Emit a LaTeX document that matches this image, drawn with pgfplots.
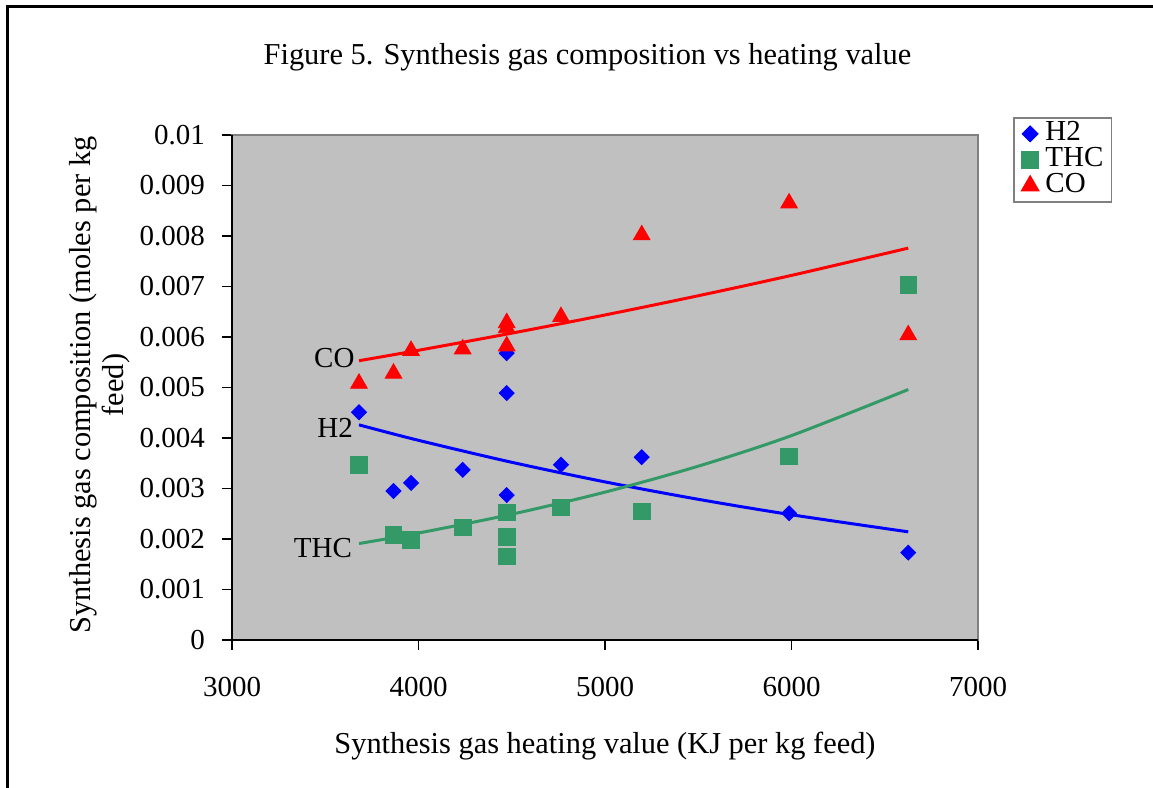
\documentclass[border=0pt]{standalone}
\usepackage{fontspec}
\setmainfont{Liberation Serif}
\usepackage{pgfplots}
\pgfplotsset{compat=1.18}
\definecolor{exblue}{RGB}{0,0,255}
\definecolor{exgreen}{RGB}{51,153,102}
\definecolor{exred}{RGB}{255,0,0}
\definecolor{plotgray}{RGB}{192,192,192}
\definecolor{bordergray}{RGB}{128,128,128}
\begin{document}
\fontsize{14.5}{17}\selectfont
\begin{tikzpicture}
\useasboundingbox (0,0) rectangle (576.5pt,394pt);
\draw[line width=1.25pt] (3.75pt,-5pt) -- (3.75pt,390.75pt) -- (590pt,390.75pt);
\node[font=\fontsize{15.2}{18}\selectfont] at (293.75pt,365.5pt) {Figure 5. Synthesis gas composition vs heating value};
\node[rotate=90,align=center,font=\fontsize{15.2}{16.5}\selectfont] at (50pt,201.5pt) {Synthesis gas composition (moles per kg\\feed)};
\node[font=\fontsize{15.2}{18}\selectfont] at (302.5pt,21pt) {Synthesis gas heating value (KJ per kg feed)};
\begin{axis}[
  at={(116pt,74pt)}, anchor=south west,
  scale only axis, width=373pt, height=252.5pt,
  xmin=3000, xmax=7000, ymin=0, ymax=0.01,
  scaled y ticks=false, scaled x ticks=false,
  xtick={3000,4000,5000,6000,7000},
  xticklabels={3000,4000,5000,6000,7000},
  ytick={0,0.001,0.002,0.003,0.004,0.005,0.006,0.007,0.008,0.009,0.01},
  yticklabels={0,0.001,0.002,0.003,0.004,0.005,0.006,0.007,0.008,0.009,0.01},
  xtick pos=bottom, ytick pos=left, tick align=outside,
  major tick length=5pt,
  tick style={black, line width=0.6pt},
  axis line style={draw=bordergray, line width=0.8pt},
  axis background/.style={fill=plotgray},
  yticklabel style={xshift=-3.5pt},
  xticklabel style={yshift=-8.5pt},
  clip=false,
  legend style={at={(1.047,1.0356)}, anchor=north west, draw=bordergray, line width=0.8pt, fill=white,
    inner xsep=4pt, inner ysep=1.5pt, row sep=0pt, column sep=3.5pt,
    nodes={text height=10pt, text depth=3pt, inner sep=0pt, anchor=west}},
  legend cell align=left,
]
% H2 data
\addplot[only marks, mark=square*, mark size=2.65pt, mark options={rotate=45, fill=exblue, draw=exblue}] coordinates {
(3681,0.00451) (3866,0.00295) (3960,0.00311) (4237,0.00337)
(4473,0.00568) (4473,0.00489) (4473,0.00287) (4764,0.00347)
(5197,0.00362) (5987,0.00251) (6626,0.00173)};
\addlegendentry{H2}
% THC data
\addplot[only marks, mark=square*, mark size=4.1pt, mark options={fill=exgreen, draw=exgreen}] coordinates {
(3681,0.00347) (3866,0.00208) (3960,0.00198) (4237,0.00223)
(4473,0.00253) (4473,0.00204) (4473,0.00165) (4764,0.00263)
(5197,0.00255) (5987,0.00364) (6626,0.00703)};
\addlegendentry{THC}
% CO data
\addplot[only marks, mark=triangle*, mark size=4.8pt, mark options={fill=exred, draw=exred}] coordinates {
(3681,0.00508) (3866,0.00528) (3960,0.00573) (4237,0.00576)
(4473,0.00582) (4473,0.00628) (4473,0.00618) (4764,0.00640)
(5197,0.00802) (5987,0.00865) (6626,0.00604)};
\addlegendentry{CO}
% trendlines
\addplot[forget plot, exred, line width=1.5pt, smooth] coordinates {
(3681,0.00553) (4000,0.005737) (4500,0.006076) (5000,0.006436) (5500,0.006817) (6000,0.007220) (6626,0.00776)};
\addplot[forget plot, exblue, line width=1.5pt, smooth] coordinates {
(3681,0.00426) (4000,0.003954) (4500,0.003519) (5000,0.003131) (5500,0.002786) (6000,0.002480) (6626,0.002142)};
\addplot[forget plot, exgreen, line width=1.5pt, smooth] coordinates {
(3681,0.00191) (4000,0.002118) (4500,0.002491) (5000,0.002928) (5500,0.003442) (6000,0.004048) (6626,0.00496)};
\draw[black, line width=0.8pt] (rel axis cs:0,1) -- (rel axis cs:0,0) -- (rel axis cs:1,0);
\node[anchor=east, inner sep=0pt] at (axis cs:3659,0.00558) {CO};
\node[anchor=east, inner sep=0pt] at (axis cs:3650,0.00420) {H2};
\node[anchor=east, inner sep=0pt] at (axis cs:3645,0.00182) {THC};
\end{axis}
\end{tikzpicture}
\end{document}
